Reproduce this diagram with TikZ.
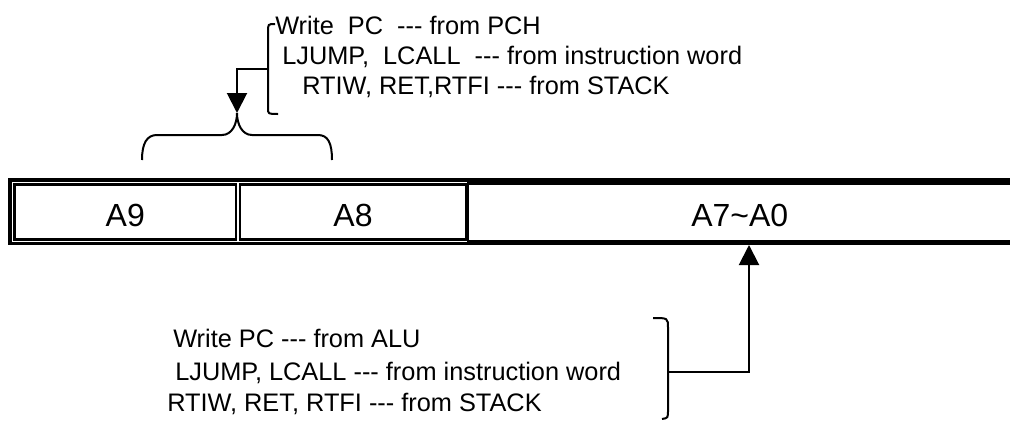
\documentclass[tikz,border=0pt]{standalone}
\usepackage{fontspec}
\setmainfont{Liberation Sans}
\usetikzlibrary{arrows.meta, positioning}
\newcommand{\tridash}{\mbox{-}\mbox{-}\mbox{-}}

\begin{document}
\begin{tikzpicture}[x=0.75pt, y=-0.75pt,
    cell/.style={draw, line width=1.7pt, inner sep=0pt, minimum height=41.25pt,
      text height=21pt, text depth=0pt, font=\fontsize{24}{28}\selectfont},
    note/.style={anchor=base west, inner sep=0pt, font=\fontsize{19}{23}\selectfont},
    wire/.style={line width=1.5pt},
    tip/.style={-{Triangle[width=15pt, length=15pt]}}]
  \useasboundingbox (0,0) rectangle (1010,421);

  % Address register cells
  \node[cell, minimum width=166.2pt] (a9) at (125.3,212) {A9};
  \node[cell, minimum width=169.4pt] (a8) at (353,212) {A8};
  \node[cell, draw=none, minimum width=405.4pt] (a70) at (739.75,212) {A7\textasciitilde A0};
  \draw[line width=1.7pt] (a70.north east) -- (a70.north west) -- (a70.south west) -- (a70.south east);
  % outer frame, open on the right
  \draw[line width=2.5pt] (1010,180) -- (10,180) -- (10,243.3) -- (1010,243.3);

  % Upper selector (PCH sources)
  \node[note] (pch1) at (275,34) {Write\ \ PC\ \ \tridash\ from PCH};
  \node[note] (pch2) at (282,64) {LJUMP,\ \ LCALL\ \ \tridash\ from instruction word};
  \node[note] (pch3) at (302,94) {RTIW, RET,RTFI \tridash\ from STACK};
  \draw[wire] (275,24) .. controls (268,24) .. (268,32) -- (268,108) .. controls (268,114) .. (278,114);
  \coordinate (pchmid) at (268,69);
  \coordinate (pchtip) at (237,113);
  \draw[wire, tip] (pchmid) -| (pchtip);
  % brace over A9 and A8
  \draw[wire] (142,160) .. controls (142,143) and (147,135) .. (157,135) -- (222,135)
    .. controls (232,135) and (237,124) .. (pchtip)
    .. controls (237,124) and (242,135) .. (252,135) -- (318,135)
    .. controls (328,135) and (332,143) .. (332,160);

  % Lower selector (ALU sources)
  \node[note] (alu1) at (173,347) {Write PC \tridash\ from ALU};
  \node[note] (alu2) at (175,380) {LJUMP, LCALL \tridash\ from instruction word};
  \node[note] (alu3) at (167,411) {RTIW, RET, RTFI \tridash\ from STACK};
  \draw[wire] (653,318) .. controls (668,318) .. (668,328) -- (668,410) .. controls (668,418) .. (662,419);
  \coordinate (alumid) at (668,372);
  \coordinate (alutip) at (749,245);
  \draw[wire, tip] (alumid) -| (alutip);
\end{tikzpicture}
\end{document}
